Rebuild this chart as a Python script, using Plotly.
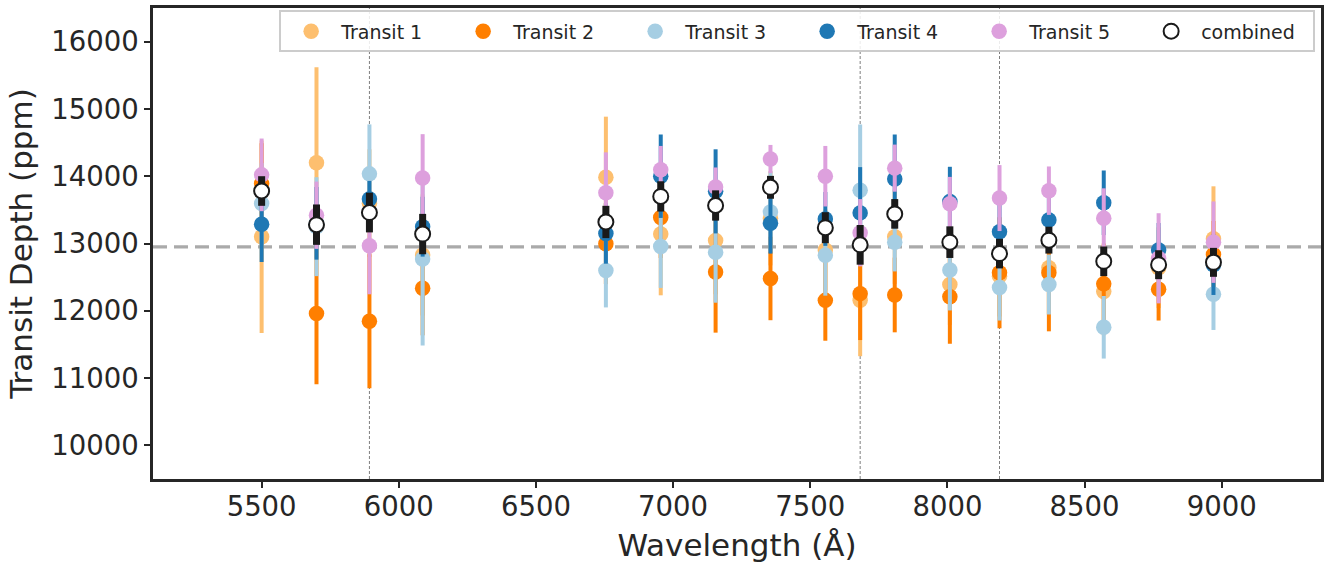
import plotly.graph_objects as go

# Bin centres (Angstrom)
wavelength = [5500, 5700, 5893, 6087, 6755, 6955, 7155, 7355, 7555,
              7682, 7808, 8009, 8190, 8370, 8570, 8770, 8970]

# Per-transit depths (ppm) and 1-sigma uncertainties
depth_t1 = [13100, 14200, 13600, 12830, 13985, 13140, 13045, 13375, 12905,
            12155, 13100, 12390, 12515, 12640, 12285, 12640, 13070]
err_t1 = [1430, 1420, 800, 900, 900, 910, 800, 700, 600,
          830, 700, 600, 600, 700, 650, 600, 780]

depth_t2 = [13890, 11960, 11845, 12335, 12995, 13385, 12575, 12480, 12155,
            12255, 12235, 12210, 12565, 12565, 12400, 12320, 12835]
err_t2 = [600, 1050, 995, 700, 600, 600, 900, 620, 600,
          690, 555, 700, 825, 870, 600, 465, 500]

depth_t3 = [13595, 13250, 14035, 12770, 12600, 12955, 12870, 13470, 12825,
            13790, 13020, 12605, 12345, 12390, 11755, 12700, 12245]
err_t3 = [600, 735, 735, 1285, 550, 615, 750, 600, 600,
          980, 435, 600, 490, 445, 465, 500, 530]

depth_t4 = [13285, 13300, 13660, 13250, 13150, 14000, 13775, 13300, 13365,
            13455, 13960, 13625, 13175, 13350, 13605, 12905, 12685]
err_t4 = [560, 540, 270, 445, 450, 620, 625, 450, 400,
          680, 660, 515, 450, 450, 480, 400, 450]

depth_t5 = [14020, 13420, 12965, 13975, 13755, 14095, 13840, 14255, 14000,
            13160, 14120, 13590, 13675, 13785, 13375, 12780, 13020]
err_t5 = [540, 500, 720, 650, 600, 355, 290, 210, 450,
          500, 350, 400, 490, 360, 445, 670, 605]

# Weighted combination of the five transits
depth_comb = [13780, 13280, 13460, 13140, 13320, 13700, 13565, 13835, 13235,
              12980, 13440, 13020, 12850, 13050, 12735, 12685, 12720]
err_comb = [220, 300, 295, 300, 240, 225, 225, 170, 230,
            295, 220, 235, 220, 200, 220, 215, 215]

white_light_depth = 12950
line_positions = [5893, 7682, 8190]  # Na D, K, Na 8190 doublet centres

series = [
    ("Transit 1", depth_t1, err_t1, "#fdbf6f"),
    ("Transit 2", depth_t2, err_t2, "#ff7f00"),
    ("Transit 3", depth_t3, err_t3, "#a6cee3"),
    ("Transit 4", depth_t4, err_t4, "#1f78b4"),
    ("Transit 5", depth_t5, err_t5, "#dda0dd"),
]

INK = "#262626"
FONT = "DejaVu Sans"

fig = go.Figure()

for name, y, e, col in series:
    fig.add_trace(go.Scatter(
        x=wavelength, y=y, name=name, mode="markers",
        marker=dict(color=col, size=15.5, line=dict(width=0)),
        error_y=dict(type="data", array=e, color=col, thickness=4, width=0),
    ))

fig.add_trace(go.Scatter(
    x=wavelength, y=depth_comb, name="combined", mode="markers",
    marker=dict(color="white", size=15, line=dict(color="#1a1a1a", width=2)),
    error_y=dict(type="data", array=err_comb, color="#1a1a1a", thickness=7, width=0),
))

for wl in line_positions:
    fig.add_vline(x=wl, line=dict(color="#7f7f7f", width=1, dash="3px,2px"), layer="below")

fig.add_hline(y=white_light_depth,
              line=dict(color="#aaaaaa", width=3.3, dash="14px,7px"), layer="below")

axis_common = dict(
    showline=True, mirror=True, linecolor=INK, linewidth=2.5,
    ticks="outside", ticklen=6, tickwidth=2, tickcolor=INK,
    showgrid=False, zeroline=False, tickformat="d",
    tickfont=dict(family=FONT, size=27.5, color=INK),
)

fig.update_layout(
    width=1333, height=568,
    margin=dict(l=153, r=12, t=5, b=89),
    paper_bgcolor="white", plot_bgcolor="white",
    font=dict(family=FONT, color=INK),
    xaxis=dict(range=[5104, 9362], tickvals=[5500, 6000, 6500, 7000, 7500, 8000, 8500, 9000],
               ticklabelstandoff=-5,
               title=dict(text="Wavelength (Å)", font=dict(family=FONT, size=31, color=INK), standoff=14),
               **axis_common),
    yaxis=dict(range=[9500, 16500], tickvals=[10000, 11000, 12000, 13000, 14000, 15000, 16000],
               title=dict(text="Transit Depth (ppm)", font=dict(family=FONT, size=31, color=INK), standoff=10),
               **axis_common),
    legend=dict(
        orientation="h", x=0.108, y=0.995, xanchor="left", yanchor="top",
        bgcolor="rgba(255,255,255,0.85)", bordercolor="#cccccc", borderwidth=2,
        font=dict(family=FONT, size=19, color=INK),
        itemwidth=50, entrywidth=107, entrywidthmode="pixels",
        tracegroupgap=0,
    ),
    showlegend=True,
)

fig.write_html("out.html")
